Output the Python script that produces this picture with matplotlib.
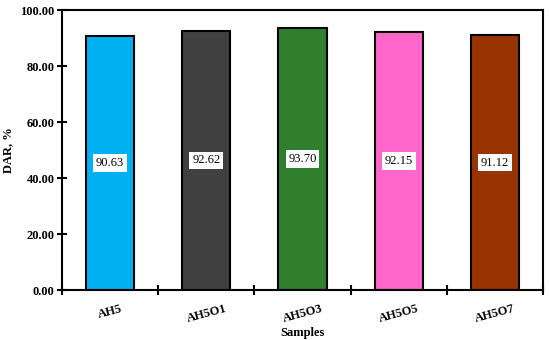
import numpy as np
import matplotlib
matplotlib.use("Agg")
import matplotlib.pyplot as plt
from matplotlib.ticker import MultipleLocator, FixedLocator

samples = ["AH5", "AH5O1", "AH5O3", "AH5O5", "AH5O7"]
dar = [90.63, 92.62, 93.70, 92.15, 91.12]
colors = ["#00B0F0", "#404040", "#2F7F2F", "#FF66CC", "#993300"]

plt.rcParams["font.family"] = ["Liberation Serif", "DejaVu Serif"]

fig = plt.figure(figsize=(5.5, 3.4), dpi=100)
ax = fig.add_axes([0.113, 0.147, 0.874, 0.823])

x = np.arange(len(samples))
ax.bar(x, dar, width=0.5, color=colors, edgecolor="black", linewidth=1.5)

for xi, v in zip(x, dar):
    ax.text(xi, v / 2, f"{v:.2f}", ha="center", va="center", fontsize=9,
            bbox=dict(facecolor="white", edgecolor="none", pad=2))

ax.set_xlim(-0.5, len(samples) - 0.5)
ax.set_ylim(0, 100)
ax.yaxis.set_major_locator(MultipleLocator(20))
ax.yaxis.set_major_formatter(matplotlib.ticker.FormatStrFormatter("%.2f"))

ax.set_xticks(x)
ax.set_xticklabels(samples, rotation=15, fontweight="bold", fontsize=9)
ax.tick_params(axis="x", which="major", length=0, pad=9)
ax.xaxis.set_minor_locator(FixedLocator(np.arange(-0.5, len(samples), 1.0)))
ax.tick_params(axis="x", which="minor", direction="inout", length=7, width=1.5)
ax.tick_params(axis="y", direction="inout", length=7, width=1.5, labelsize=9, pad=2)
for lab in ax.get_yticklabels():
    lab.set_fontweight("bold")

for s in ax.spines.values():
    s.set_linewidth(1.5)

ax.set_xlabel("Samples", fontweight="bold", fontsize=9, labelpad=2)
ax.set_ylabel("DAR, %", fontweight="bold", fontsize=9)
ax.yaxis.set_label_coords(-0.1, 0.5)

fig.savefig("out.png", dpi=100)
